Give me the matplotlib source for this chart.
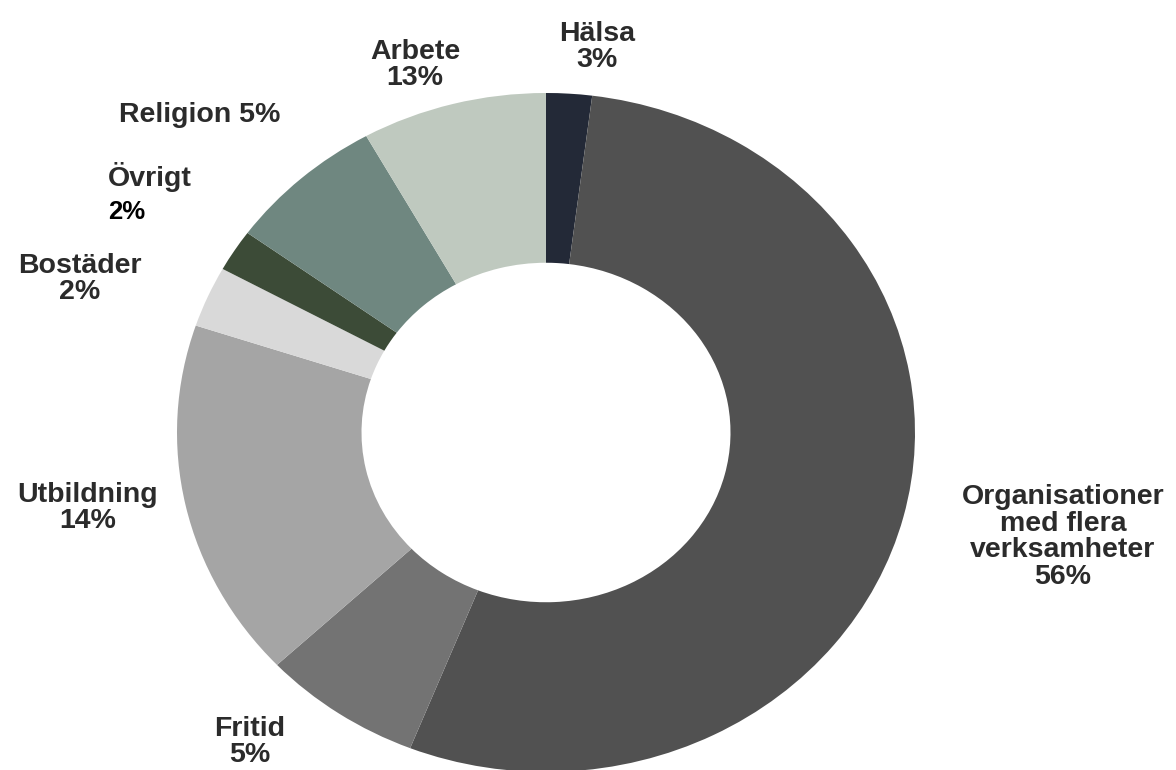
import matplotlib
matplotlib.use("Agg")
import matplotlib.pyplot as plt

# Data (slice shares as drawn, clockwise from 12 o'clock)
categories = ["Hälsa", "Organisationer med flera verksamheter", "Fritid", "Utbildning",
              "Bostäder", "Övrigt", "Religion", "Arbete"]
slice_values = [2.0, 54.0, 7.0, 17.1, 2.9, 2.0, 6.9, 8.1]
label_texts = ["Hälsa\n3%", "Organisationer\nmed flera\nverksamheter\n56%", "Fritid\n5%",
               "Utbildning\n14%", "Bostäder\n2%", "Övrigt", "Religion 5%", "Arbete\n13%"]
colors = ["#232937", "#515151", "#737373", "#a5a5a5", "#d9d9d9", "#3c4b37", "#6f8780", "#bfc9bf"]

W, H = 1176, 770
CX, CY = 546, 432.5      # pixel centre (from top)
RX, RY = 369, 339.5      # pixel radii

fig = plt.figure(figsize=(W / 100, H / 100), dpi=100)
ax = fig.add_axes([0, 0, 1, 1])
ax.pie(slice_values, colors=colors, startangle=90, counterclock=False, radius=1,
       wedgeprops=dict(width=0.5, linewidth=0))
ax.set_aspect("auto")
ax.set_xlim(-CX / RX, (W - CX) / RX)
ax.set_ylim(-(H - CY) / RY, CY / RY)
ax.axis("off")

def px(x, y):
    return (x - CX) / RX, (CY - y) / RY

label_pos = [(597, 47), (1063, 537), (250, 742), (88, 508), (80, 279), (108, 177), (200, 115), (415, 65)]
label_ha = ["center", "center", "center", "center", "center", "left", "center", "center"]

font = dict(family="Liberation Sans", fontweight="bold", fontsize=20.5, color="#2b2b2b")
for txt, (x, y), ha in zip(label_texts, label_pos, label_ha):
    ax.text(*px(x, y), txt, ha=ha, va="center", multialignment="center",
            linespacing=1.02, **font)

# separate percentage under "Övrigt"
ax.text(*px(108, 212), "2%", ha="left", va="center", family="Liberation Sans",
        fontweight="bold", fontsize=18.5, color="#000000")

fig.savefig("out.png", dpi=100)
